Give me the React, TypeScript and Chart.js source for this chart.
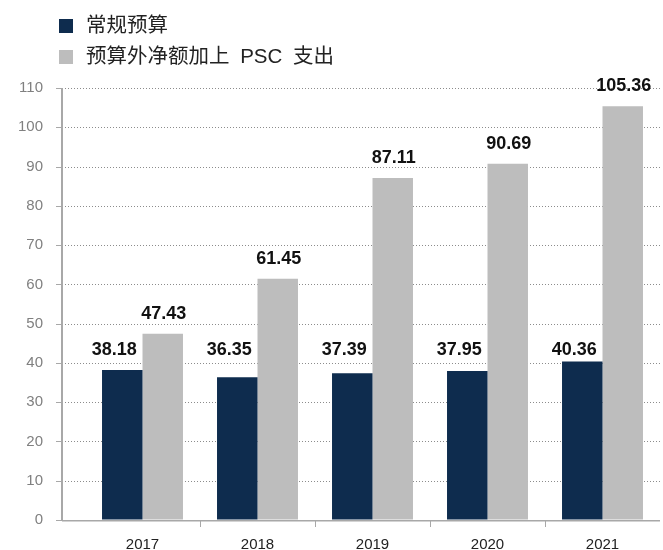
import React, { useEffect, useRef } from "react";
import { Chart, registerables } from "chart.js";

Chart.register(...registerables);

const categories = ["2017", "2018", "2019", "2020", "2021"];
const regularBudget = [38.18, 36.35, 37.39, 37.95, 40.36];
const offBudgetPlusPSC = [47.43, 61.45, 87.11, 90.69, 105.36];
const seriesNames = ["常规预算", "预算外净额加上 PSC 支出"];
const seriesColors = ["#0E2C4E", "#BDBDBD"];
const yMin = 0;
const yMax = 110;
const yStep = 10;

const NUM_FONT = '"Liberation Sans", Arial, sans-serif';
const LEGEND_FONT = '"Liberation Sans", "Noto Sans CJK SC", sans-serif';
const AXIS_X = 62;

const axesPlugin = {
  id: "customAxes",
  beforeDatasetsDraw(chart: any) {
    const { ctx, chartArea, scales } = chart;
    const y = scales.y;
    ctx.save();
    ctx.strokeStyle = "#8c8c8c";
    ctx.lineWidth = 1;
    ctx.setLineDash([1, 2]);
    y.ticks.forEach((t: any) => {
      const py = Math.round(y.getPixelForValue(t.value)) + 0.5;
      ctx.beginPath();
      ctx.moveTo(AXIS_X, py);
      ctx.lineTo(chartArea.right, py);
      ctx.stroke();
    });
    ctx.setLineDash([]);
    ctx.strokeStyle = "#a8a8a8";
    y.ticks.forEach((t: any) => {
      const py = Math.round(y.getPixelForValue(t.value)) + 0.5;
      ctx.beginPath();
      ctx.moveTo(AXIS_X - 6, py);
      ctx.lineTo(AXIS_X, py);
      ctx.stroke();
    });
    ctx.lineWidth = 2;
    ctx.beginPath();
    ctx.moveTo(AXIS_X, chartArea.top);
    ctx.lineTo(AXIS_X, chartArea.bottom + 1);
    ctx.stroke();
    ctx.restore();
  },
  afterDatasetsDraw(chart: any) {
    const { ctx, chartArea, scales } = chart;
    const x = scales.x;
    ctx.save();
    ctx.strokeStyle = "#a8a8a8";
    ctx.lineWidth = 1.5;
    ctx.beginPath();
    ctx.moveTo(AXIS_X, chartArea.bottom + 0.75);
    ctx.lineTo(chartArea.right, chartArea.bottom + 0.75);
    ctx.stroke();
    ctx.lineWidth = 1;
    for (let i = 0; i < categories.length - 1; i++) {
      const px = Math.round((x.getPixelForValue(i) + x.getPixelForValue(i + 1)) / 2) + 0.5;
      ctx.beginPath();
      ctx.moveTo(px, chartArea.bottom);
      ctx.lineTo(px, chartArea.bottom + 7);
      ctx.stroke();
    }
    ctx.restore();
  },
};

const labelsPlugin = {
  id: "valueLabels",
  afterDatasetsDraw(chart: any) {
    const { ctx } = chart;
    ctx.save();
    ctx.font = `bold 18px ${NUM_FONT}`;
    ctx.fillStyle = "#111";
    ctx.textAlign = "center";
    ctx.textBaseline = "alphabetic";
    const m0 = chart.getDatasetMeta(0);
    const topDark = Math.min(...m0.data.map((b: any) => b.y));
    m0.data.forEach((b: any, i: number) => {
      ctx.fillText(regularBudget[i].toFixed(2), b.x - 8, topDark - 6);
    });
    const m1 = chart.getDatasetMeta(1);
    m1.data.forEach((b: any, i: number) => {
      ctx.fillText(offBudgetPlusPSC[i].toFixed(2), b.x + 1, b.y - 15);
    });
    ctx.restore();
  },
};

const legendPlugin = {
  id: "customLegend",
  afterDraw(chart: any) {
    const { ctx } = chart;
    ctx.save();
    ctx.font = `20.5px ${LEGEND_FONT}`;
    try {
      (ctx as any).wordSpacing = "5px";
    } catch (e) {}
    ctx.textBaseline = "middle";
    ctx.textAlign = "left";
    seriesNames.forEach((name, i) => {
      const cy = 26 + i * 31;
      ctx.fillStyle = seriesColors[i];
      ctx.fillRect(59, cy - 7, 14, 14);
      ctx.fillStyle = "#222";
      ctx.fillText(name, 86, cy);
    });
    ctx.restore();
  },
};

export default function App() {
  const ref = useRef<HTMLCanvasElement | null>(null);
  useEffect(() => {
    if (!ref.current) return;
    const chart = new Chart(ref.current, {
      type: "bar",
      data: {
        labels: categories,
        datasets: [
          {
            label: seriesNames[0],
            data: regularBudget,
            backgroundColor: seriesColors[0],
            categoryPercentage: 0.704,
            barPercentage: 1,
          },
          {
            label: seriesNames[1],
            data: offBudgetPlusPSC,
            backgroundColor: seriesColors[1],
            categoryPercentage: 0.704,
            barPercentage: 1,
          },
        ],
      },
      options: {
        responsive: true,
        maintainAspectRatio: false,
        animation: false,
        devicePixelRatio: 1,
        layout: { padding: { top: 88, right: 3, left: 0, bottom: 0 } },
        plugins: {
          legend: { display: false },
          tooltip: { enabled: false },
        },
        scales: {
          x: {
            offset: true,
            grid: { display: false, drawTicks: false },
            border: { display: false },
            ticks: {
              color: "#222",
              font: { size: 15, family: NUM_FONT },
              padding: 16,
              maxRotation: 0,
            },
            afterFit: (s: any) => {
              s.height = 30;
            },
          },
          y: {
            min: yMin,
            max: yMax,
            grid: { display: true, color: "rgba(0,0,0,0)", drawTicks: true, tickLength: 42 },
            border: { display: false },
            ticks: {
              stepSize: yStep,
              color: "#808080",
              font: { size: 15, family: NUM_FONT },
              padding: 0,
            },
            afterFit: (s: any) => {
              s.width = 85;
            },
          },
        },
      },
      plugins: [axesPlugin, labelsPlugin, legendPlugin],
    });
    return () => chart.destroy();
  }, []);
  return (
    <div style={{ position: "absolute", left: 0, top: 0, width: 663, height: 550, background: "#fff" }}>
      <canvas ref={ref} />
    </div>
  );
}
